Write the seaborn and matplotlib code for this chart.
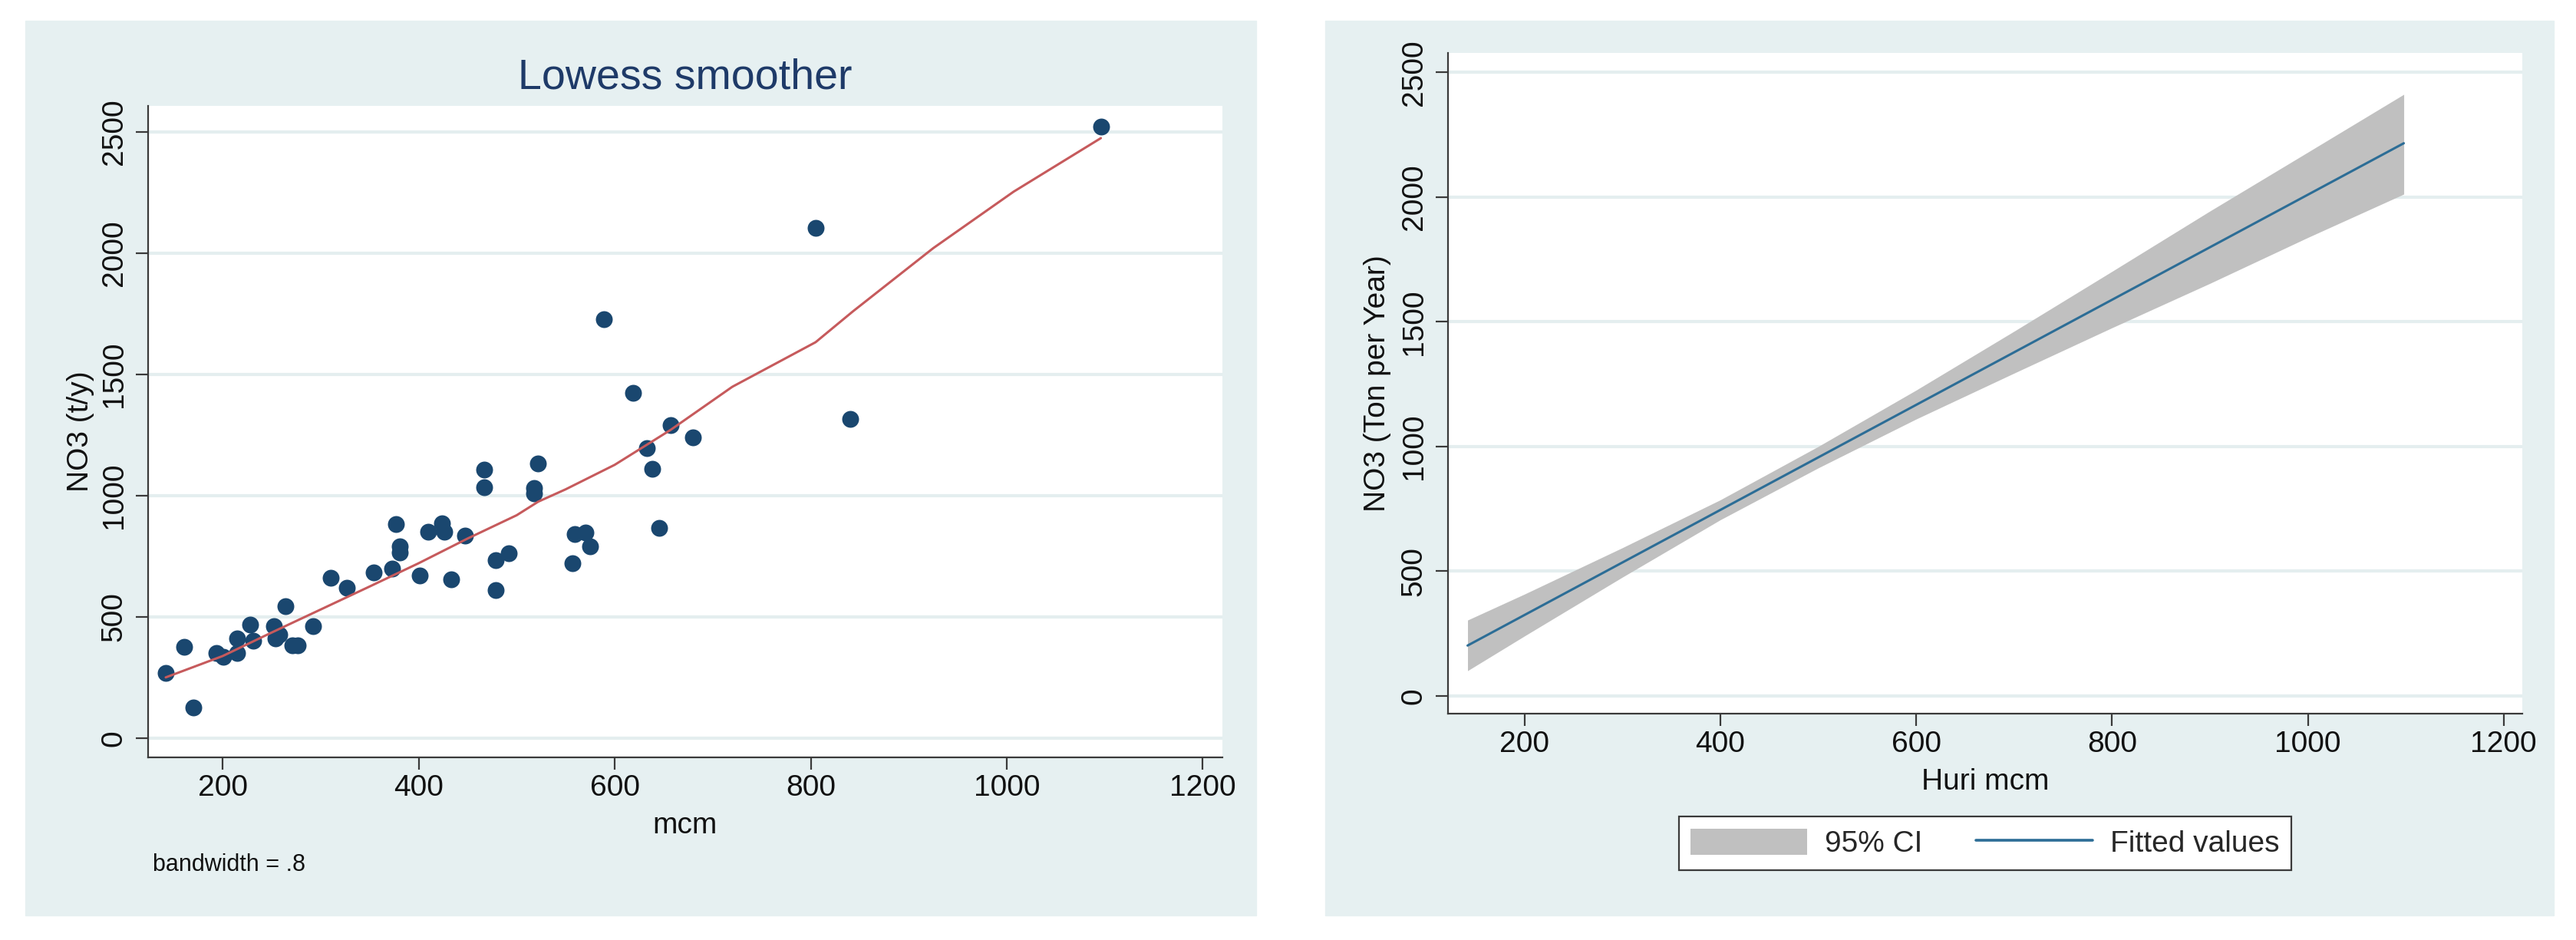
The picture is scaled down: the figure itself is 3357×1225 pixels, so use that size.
import numpy as np
import seaborn as sns
import matplotlib.pyplot as plt
from matplotlib.patches import Rectangle, Patch
from matplotlib.lines import Line2D

# scatter data (mcm vs NO3 t/y)
mcm = [142, 161, 170, 194, 201, 215, 215, 228, 231, 252, 254, 258, 264, 271, 277,
       292, 310, 327, 354, 373, 377, 381, 381, 401, 410, 424, 426, 433, 447, 467,
       467, 479, 479, 492, 518, 518, 522, 557, 559, 570, 575, 589, 619, 633, 638,
       645, 657, 680, 805, 840, 1096]
no3 = [268, 375, 127, 350, 336, 352, 411, 468, 400, 462, 412, 425, 543, 381, 381,
       462, 660, 620, 682, 700, 882, 792, 766, 671, 850, 885, 852, 654, 836, 1106,
       1034, 609, 733, 761, 1032, 1010, 1132, 721, 841, 847, 790, 1727, 1425, 1196, 1111,
       868, 1291, 1241, 2104, 1317, 2523]

# lowess curve (bandwidth .8)
lowess_x = [142, 200, 250, 300, 350, 400, 450, 500, 522, 550, 600, 657, 720, 805, 843, 925, 1007, 1096]
lowess_y = [250, 338, 435, 530, 625, 721, 823, 919, 975, 1026, 1127, 1271, 1449, 1633, 1760, 2021, 2254, 2475]

# right panel: fitted line and 95% CI band
fit_x = [142, 1098]
fit_y = [202, 2216]
ci_x = [142, 200, 300, 400, 500, 600, 700, 800, 900, 1000, 1098]
ci_hi = [304, 408, 594, 786, 1000, 1226, 1462, 1702, 1944, 2180, 2412]
ci_lo = [101, 240, 476, 706, 914, 1110, 1294, 1476, 1654, 1838, 2012]

x_ticks = [200, 400, 600, 800, 1000, 1200]
y_ticks = [0, 500, 1000, 1500, 2000, 2500]

sns.set_theme(style='ticks')
plt.rcParams['font.family'] = ['Liberation Sans', 'DejaVu Sans']

panel_col = '#e6f0f1'
grid_col = '#e4eeef'
axis_col = '#3a3a3a'
W, H = 3357, 1225

fig = plt.figure(figsize=(W / 100, H / 100), dpi=100)
fig.patch.set_facecolor('white')

# light panel backgrounds (Stata s2color style)
fig.patches.append(Rectangle((33 / W, 1 - 1193 / H), 1604 / W, 1166 / H,
                             transform=fig.transFigure, color=panel_col, zorder=-10))
fig.patches.append(Rectangle((1727 / W, 1 - 1193 / H), 1601 / W, 1166 / H,
                             transform=fig.transFigure, color=panel_col, zorder=-10))

ax1 = fig.add_axes([193 / W, 1 - 987 / H, 1400 / W, (987 - 138) / H])
ax2 = fig.add_axes([1887 / W, 1 - 930 / H, 1400 / W, (930 - 69) / H])
ax1.set_zorder(1)
ax2.set_zorder(1)


def style_axes(ax):
    ax.set_facecolor('white')
    ax.set_xticks(x_ticks)
    ax.set_yticks(y_ticks)
    ax.yaxis.grid(True, color=grid_col, linewidth=3)
    ax.xaxis.grid(False)
    ax.set_axisbelow(True)
    for s in ['top', 'right']:
        ax.spines[s].set_visible(False)
    for s in ['left', 'bottom']:
        ax.spines[s].set_color(axis_col)
        ax.spines[s].set_linewidth(1.6)
    ax.tick_params(axis='both', direction='out', length=11.5, width=1.6,
                   color=axis_col, labelsize=28, labelcolor='#111111')
    ax.tick_params(axis='x', pad=4.5)
    ax.tick_params(axis='y', pad=7.5)
    plt.setp(ax.get_yticklabels(), rotation=90, va='center')


# left: scatter + lowess
sns.scatterplot(x=mcm, y=no3, ax=ax1, s=250, color='#1a476f', linewidth=0, zorder=3)
sns.lineplot(x=lowess_x, y=lowess_y, ax=ax1, color='#c65a5c', linewidth=2.2,
             estimator=None, sort=False, zorder=4)
ax1.set_xlim(124, 1220)
ax1.set_ylim(-80, 2608)
style_axes(ax1)
ax1.set_xlabel('mcm', fontsize=28, va='center', color='#111111')
ax1.xaxis.set_label_coords(0.5, (987 - 1076) / 849)
ax1.set_ylabel('NO3 (t/y)', fontsize=28, va='center', color='#111111')
ax1.yaxis.set_label_coords((105 - 193) / 1400, 0.5)
fig.text(893 / W, 1 - 102 / H, 'Lowess smoother', fontsize=40, color='#1e3a68',
         ha='center', va='center')
fig.text(199 / W, 1 - 1127 / H, 'bandwidth = .8', fontsize=22, color='#111111',
         ha='left', va='center')

# right: linear fit with 95% CI
ax2.fill_between(ci_x, ci_lo, ci_hi, color='#c0c0c0', linewidth=0, zorder=2)
sns.lineplot(x=fit_x, y=fit_y, ax=ax2, color='#2c6d96', linewidth=2.2,
             estimator=None, zorder=3)
ax2.set_xlim(122, 1219)
ax2.set_ylim(-71, 2578)
style_axes(ax2)
ax2.set_xlabel('Huri mcm', fontsize=28, va='center', color='#111111')
ax2.xaxis.set_label_coords(0.5, (930 - 1019) / 861)
ax2.set_ylabel('NO3 (Ton per Year)', fontsize=28, va='center', color='#111111')
ax2.yaxis.set_label_coords((1795 - 1887) / 1400, 0.5)

handles = [Patch(facecolor='#c0c0c0', edgecolor='none'),
           Line2D([0], [0], color='#2c6d96', linewidth=2.6)]
leg = fig.legend(handles, ['95% CI', 'Fitted values'], ncol=2, loc='center',
                 bbox_to_anchor=(2587 / W, 1 - 1099 / H), fontsize=28,
                 frameon=True, fancybox=False, edgecolor=axis_col, facecolor='white',
                 framealpha=1, handlelength=3.9, handleheight=1.0, handletextpad=0.6,
                 columnspacing=1.8, borderpad=0.4)
leg.get_frame().set_linewidth(1.6)
leg.set_zorder(2)

fig.savefig('out.png', dpi=100)
